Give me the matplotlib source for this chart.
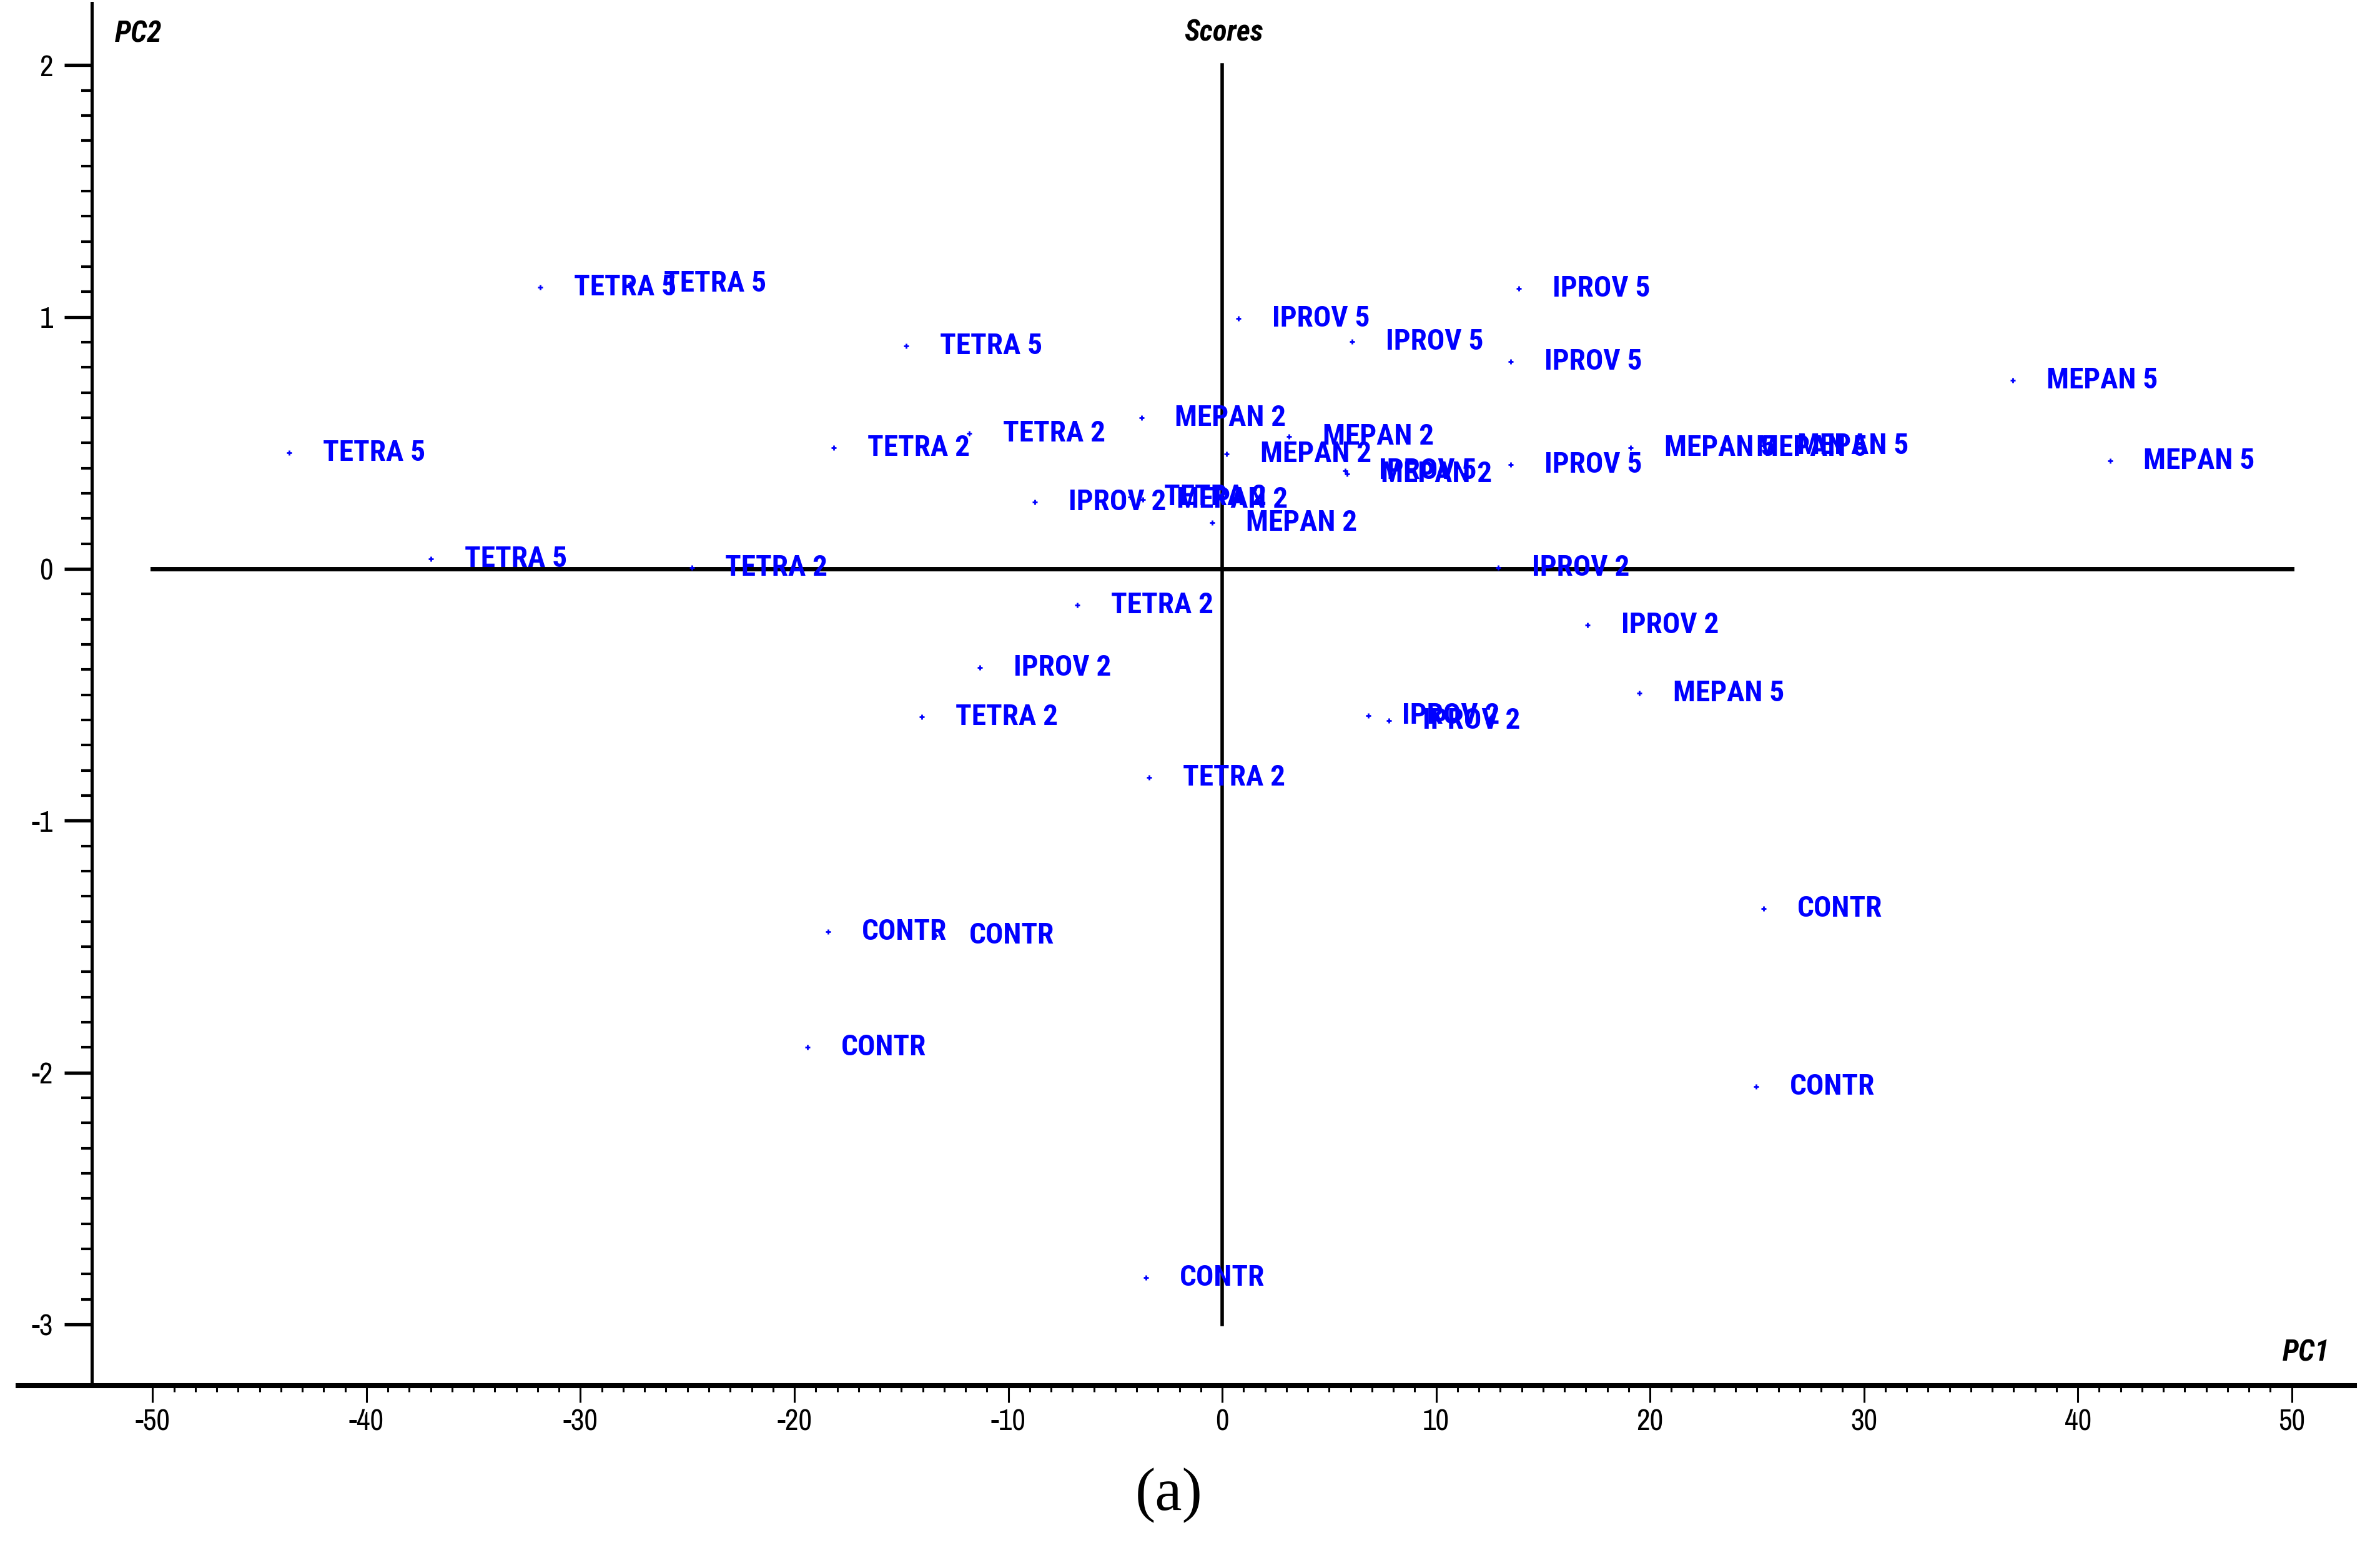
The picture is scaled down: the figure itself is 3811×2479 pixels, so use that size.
import numpy as np
import matplotlib
matplotlib.use("Agg")
import matplotlib.pyplot as plt
from matplotlib import font_manager
from matplotlib.ticker import FixedLocator

# PCA scores
tetra5_x = [-31.87, -27.68, -14.78, -43.63, -36.98]
tetra5_y = [1.117, 1.133, 0.885, 0.462, 0.040]
tetra2_x = [-18.15, -11.83, -24.80, -4.29, -6.77, -14.05, -3.42]
tetra2_y = [0.481, 0.537, 0.005, 0.285, -0.145, -0.588, -0.827]
iprov2_x = [-8.77, -11.33, 12.90, 17.07, 6.82, 7.79]
iprov2_y = [0.264, -0.391, 0.005, -0.223, -0.582, -0.603]
iprov5_x = [13.88, 0.76, 6.07, 13.49, 13.49, 5.75]
iprov5_y = [1.114, 0.994, 0.903, 0.823, 0.414, 0.390]
mepan2_x = [-3.78, 3.12, 0.20, 5.84, -3.70, -0.47]
mepan2_y = [0.600, 0.526, 0.455, 0.377, 0.276, 0.183]
mepan5_x = [36.97, 41.5, 19.1, 23.4, 25.3, 19.5]
mepan5_y = [0.749, 0.429, 0.481, 0.481, 0.488, -0.493]
contr_x = [-18.42, -13.41, -19.40, -3.57, 25.3, 24.95]
contr_y = [-1.441, -1.456, -1.899, -2.814, -1.350, -2.055]

groups = [
    ("TETRA 5", tetra5_x, tetra5_y),
    ("TETRA 2", tetra2_x, tetra2_y),
    ("IPROV 2", iprov2_x, iprov2_y),
    ("IPROV 5", iprov5_x, iprov5_y),
    ("MEPAN 2", mepan2_x, mepan2_y),
    ("MEPAN 5", mepan5_x, mepan5_y),
    ("CONTR", contr_x, contr_y),
]

x_ticks = [-50, -40, -30, -20, -10, 0, 10, 20, 30, 40, 50]
y_ticks = [-3, -2, -1, 0, 1, 2]


def pick_font(candidates):
    # first installed face out of a wish list (the original is Arial Narrow)
    installed = {f.name for f in font_manager.fontManager.ttflist}
    for c in candidates:
        if c in installed:
            return [c, 'DejaVu Sans']
    return ['DejaVu Sans']


bold_font = pick_font(['Roboto Condensed', 'Liberation Sans'])
tick_font = pick_font(['Archivo Narrow', 'Roboto Condensed', 'Liberation Sans'])

plt.rcParams['axes.unicode_minus'] = False
blue = '#0000FF'

W, H = 3811, 2479
fig = plt.figure(figsize=(W / 200, H / 200), dpi=200)
ax = fig.add_axes([29 / W, 1 - 2219 / H, (3770 - 29) / W, (2219 - 5) / H])
ax.set_xlim(-56.29, 52.93)
ax.set_ylim(-3.243, 2.246)

for s in ['top', 'right']:
    ax.spines[s].set_visible(False)
ax.spines['left'].set_position(('data', -52.85))
ax.spines['left'].set_linewidth(1.8)
ax.spines['bottom'].set_linewidth(2.9)

ax.xaxis.set_major_locator(FixedLocator(x_ticks))
ax.xaxis.set_minor_locator(FixedLocator(np.arange(x_ticks[0], x_ticks[-1] + 1, 1)))
ax.yaxis.set_major_locator(FixedLocator(y_ticks))
ax.yaxis.set_minor_locator(FixedLocator(np.round(np.arange(y_ticks[0], y_ticks[-1] + 0.01, 0.1), 2)))

ax.tick_params(axis='x', which='major', direction='out', length=9.7, width=1.1, pad=3.5)
ax.tick_params(axis='x', which='minor', direction='out', length=3.6, width=1.1)
ax.tick_params(axis='y', which='major', direction='out', length=15.8, width=1.9, pad=6.5)
ax.tick_params(axis='y', which='minor', direction='out', length=6, width=1.5)

for lab in ax.get_xticklabels() + ax.get_yticklabels():
    lab.set_fontfamily(tick_font)
    lab.set_fontsize(17)

# inner cross axes through the origin
ax.plot([x_ticks[0], x_ticks[-1]], [0, 0], color='black', lw=2.5, zorder=1)
ax.plot([0, 0], [y_ticks[0], y_ticks[-1]], color='black', lw=2.0, zorder=1)

for name, xs, ys in groups:
    ax.plot(xs, ys, linestyle='none', marker='+', markersize=3, mew=1.0,
            color=blue, zorder=3)
    for x, y in zip(xs, ys):
        ax.annotate(name, (x, y), xytext=(19.4, 0), textcoords='offset points',
                    ha='left', va='center', color=blue, fontsize=17,
                    fontweight='bold', family=bold_font, zorder=4)

fig.text(222 / W, 1 - 54 / H, 'PC2', ha='center', va='center', fontsize=17,
         fontstyle='italic', fontweight='bold', family=bold_font)
fig.text(3693 / W, 1 - 2167 / H, 'PC1', ha='center', va='center', fontsize=17,
         fontstyle='italic', fontweight='bold', family=bold_font)
fig.text(1960 / W, 1 - 53 / H, 'Scores', ha='center', va='center', fontsize=17,
         fontstyle='italic', fontweight='bold', family=bold_font)
fig.text(1872 / W, 1 - 2395 / H, '(a)', ha='center', va='center', fontsize=35,
         family=['Liberation Serif', 'DejaVu Serif'])

fig.savefig('out.png', dpi=200)
